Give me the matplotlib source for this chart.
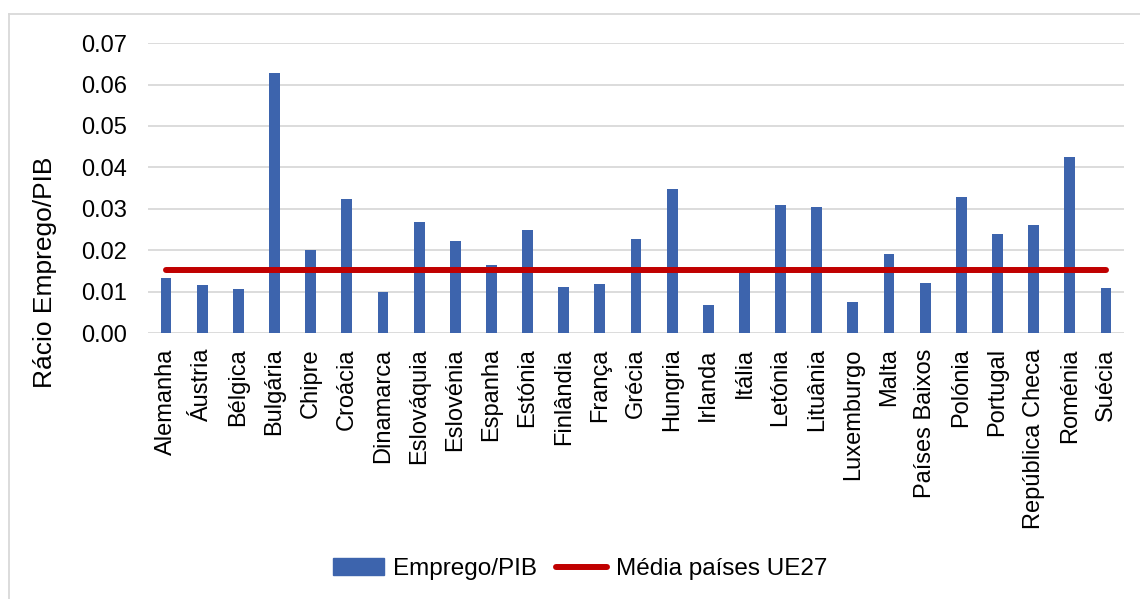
import numpy as np
import matplotlib.pyplot as plt
from matplotlib.lines import Line2D

# Countries and values
paises = ['Alemanha', 'Áustria', 'Bélgica', 'Bulgária', 'Chipre', 'Croácia',
          'Dinamarca', 'Eslováquia', 'Eslovénia', 'Espanha', 'Estónia',
          'Finlândia', 'França', 'Grécia', 'Hungria', 'Irlanda', 'Itália',
          'Letónia', 'Lituânia', 'Luxemburgo', 'Malta', 'Países Baixos',
          'Polónia', 'Portugal', 'República Checa', 'Roménia', 'Suécia']
emprego_pib = [0.0134, 0.0116, 0.0106, 0.0628, 0.0200, 0.0323,
               0.0098, 0.0269, 0.0223, 0.0165, 0.0248,
               0.0111, 0.0119, 0.0227, 0.0348, 0.0068, 0.0144,
               0.0308, 0.0305, 0.0074, 0.0190, 0.0121,
               0.0329, 0.0240, 0.0260, 0.0426, 0.0108]
media_ue27 = 0.0153

plt.rcParams['font.family'] = ['Liberation Sans', 'DejaVu Sans']

fig = plt.figure(figsize=(11.4, 5.99), dpi=100)
ax = fig.add_axes([0.1298, 0.444, 0.8562, 0.484])

x = np.arange(len(paises))
ax.bar(x, emprego_pib, width=0.3, color='#3d64ad', zorder=2)
ax.plot(x, [media_ue27] * len(paises), color='#c00000', linewidth=4.3,
        solid_capstyle='round', zorder=3)

ax.set_xlim(-0.5, len(paises) - 0.5)
ax.set_ylim(0, 0.07)
ax.set_yticks(np.arange(0, 0.071, 0.01))
ax.set_yticklabels([f'{v:.2f}' for v in np.arange(0, 0.071, 0.01)])
ax.set_xticks(x)
ax.set_xticklabels(paises, rotation=90)
ax.tick_params(axis='both', length=0, labelsize=17, colors='black')
ax.tick_params(axis='x', pad=11)
ax.tick_params(axis='y', pad=15)
ax.grid(axis='y', color='#d9d9d9', linewidth=1.3, zorder=0)
for s in ax.spines.values():
    s.set_visible(False)
ax.set_ylabel('Rácio Emprego/PIB', fontsize=19)
ax.yaxis.set_label_coords(-0.093, 0.21)

handles = [plt.Rectangle((0, 0), 1, 1, color='#3d64ad'),
           Line2D([0], [0], color='#c00000', linewidth=4.3, solid_capstyle='round')]
fig.legend(handles, ['Emprego/PIB', 'Média países UE27'], loc='center',
           bbox_to_anchor=(0.509, 0.05), ncol=2, frameon=False, fontsize=17.5,
           handlelength=2.1, handletextpad=0.35, columnspacing=0.8)

# light gray chart frame
fig.add_artist(Line2D([8.5 / 1140, 1], [1 - 13.5 / 599] * 2, color='#d9d9d9', linewidth=1.3))
fig.add_artist(Line2D([8.5 / 1140] * 2, [0, 1 - 13.5 / 599], color='#d9d9d9', linewidth=1.3))

fig.savefig('out.png', dpi=100)
